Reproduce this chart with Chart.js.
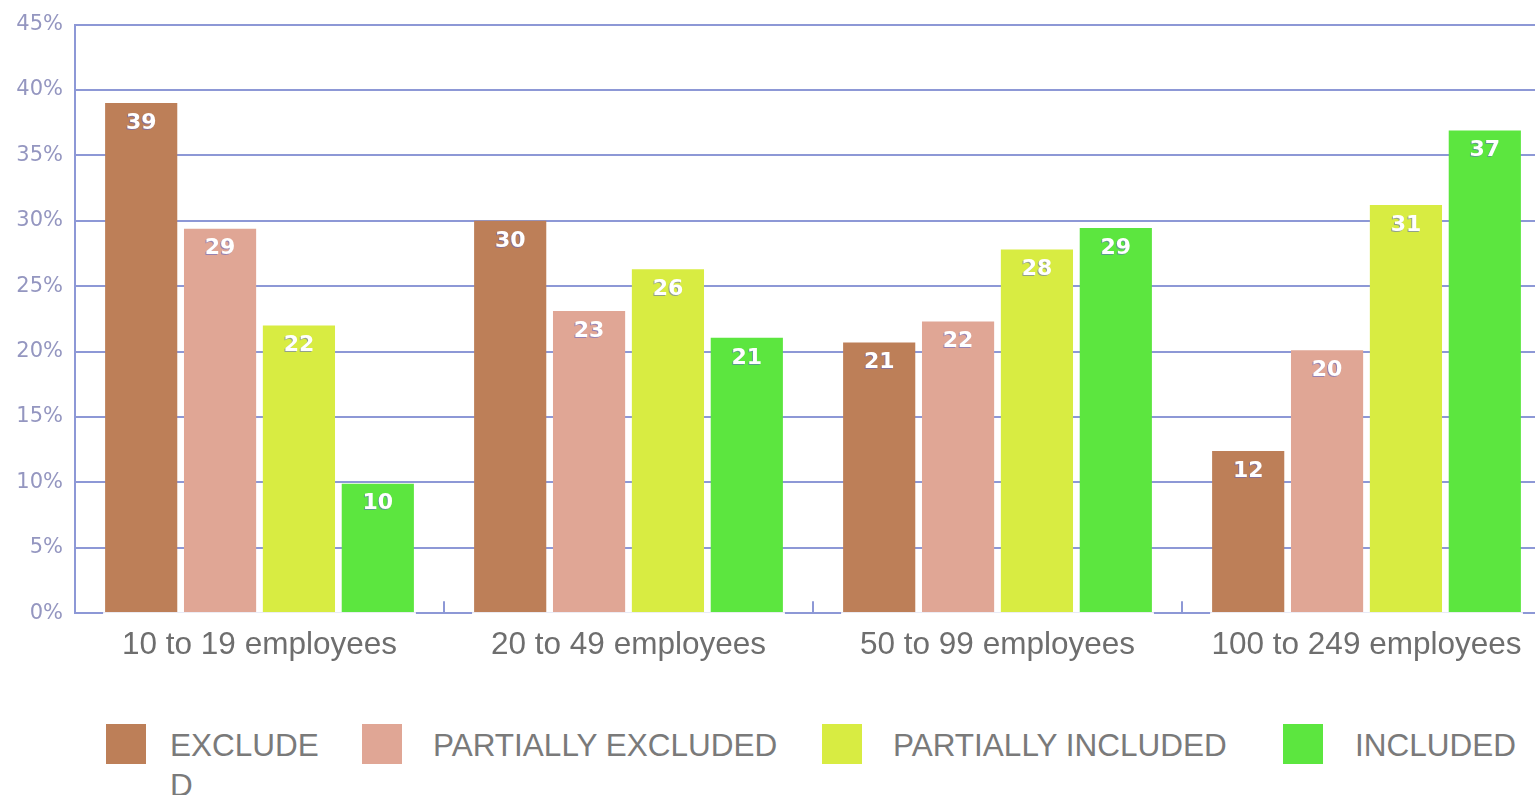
<!DOCTYPE html>
<html>
<head>
<meta charset="utf-8">
<script src="https://cdn.jsdelivr.net/npm/chart.js@4/dist/chart.umd.min.js"></script>
<style>
  html, body { margin: 0; padding: 0; background: #fff; overflow: hidden; width: 1535px; height: 795px; }
  #wrap { position: absolute; left: 0; top: 0; width: 1551px; height: 677px; }
  #legend { position: absolute; left: 0; top: 724px; width: 1535px; height: 71px; font-family: "Liberation Sans", Arial, sans-serif; font-size: 31.5px; color: #7a7a7a; }
  .item { position: absolute; top: 0; }
  .box { position: absolute; left: 0; top: 0; width: 40px; height: 40px; }
  .lbl { position: absolute; top: 1px; line-height: 40px; }
</style>
</head>
<body>
<div id="wrap"><canvas id="chart"></canvas></div>
<div id="legend"></div>
<script>
(function(){
  'use strict';

  // datos (porcentaje)
  const categories = ['10 to 19 employees', '20 to 49 employees', '50 to 99 employees', '100 to 249 employees'];
  const seriesNames = ['EXCLUDED', 'PARTIALLY EXCLUDED', 'PARTIALLY INCLUDED', 'INCLUDED'];
  const excluded = [39.0, 30.0, 20.7, 12.4];
  const partiallyExcluded = [29.4, 23.1, 22.3, 20.1];
  const partiallyIncluded = [22.0, 26.3, 27.8, 31.2];
  const included = [9.9, 21.05, 29.45, 36.9];
  const yTicks = [0, 5, 10, 15, 20, 25, 30, 35, 40, 45];

  const colors = ['#bd7f58', '#e0a695', '#d8ec42', '#5ce63f'];
  const gridColor = '#8d98d6';
  const allSeries = [excluded, partiallyExcluded, partiallyIncluded, included];

  // etiquetas blancas dentro de las barras
  const barLabels = {
    id: 'barLabels',
    afterDatasetsDraw(chart){
      const ctx = chart.ctx;
      ctx.save();
      ctx.font = 'bold 22px "DejaVu Sans", sans-serif';
      ctx.textAlign = 'center';
      ctx.textBaseline = 'middle';
      chart.data.datasets.forEach((ds, i) => {
        const meta = chart.getDatasetMeta(i);
        meta.data.forEach((bar, j) => {
          const txt = String(Math.round(ds.data[j]));
          ctx.fillStyle = 'rgba(90,100,200,0.55)';
          ctx.fillText(txt, bar.x - 1, bar.y + 21);
          ctx.fillStyle = '#ffffff';
          ctx.fillText(txt, bar.x, bar.y + 20);
        });
      });
      ctx.restore();
    }
  };

  // linea base: solo visible entre grupos, con marcas hacia arriba en los limites
  const baseLine = {
    id: 'baseLine',
    afterDatasetsDraw(chart){
      const ctx = chart.ctx;
      const x = chart.scales.x, y = chart.scales.y;
      const y0 = y.getPixelForValue(0);
      const first = chart.getDatasetMeta(0).data;
      const last = chart.getDatasetMeta(chart.data.datasets.length - 1).data;
      ctx.save();
      ctx.fillStyle = '#ffffff';
      first.forEach((b, j) => {
        const l = b.x - b.width / 2 - 2;
        const r = last[j].x + last[j].width / 2 + 2;
        ctx.fillRect(l, y0 - 1, r - l, 4);
      });
      ctx.strokeStyle = gridColor;
      ctx.lineWidth = 2;
      for(let i = 1; i < categories.length; i++){
        const bx = (x.getPixelForTick(i - 1) + x.getPixelForTick(i)) / 2;
        ctx.beginPath();
        ctx.moveTo(bx, y0);
        ctx.lineTo(bx, y0 - 12);
        ctx.stroke();
      }
      ctx.restore();
    }
  };

  const ctx = document.getElementById('chart');
  new Chart(ctx, {
    type: 'bar',
    data: {
      labels: categories,
      datasets: allSeries.map((d, i) => ({
        label: seriesNames[i],
        data: d,
        backgroundColor: colors[i],
        borderWidth: 0,
        barPercentage: 0.915,
        categoryPercentage: 0.855
      }))
    },
    options: {
      responsive: true,
      maintainAspectRatio: false,
      animation: false,
      layout: { padding: { top: 10, right: 0, left: 0, bottom: 0 } },
      plugins: { legend: { display: false }, tooltip: { enabled: false } },
      scales: {
        x: {
          grid: { display: false, drawTicks: false },
          border: { display: false },
          ticks: { color: '#6e6e6e', font: { family: '"Liberation Sans", Arial, sans-serif', size: 31.5 }, padding: 13, maxRotation: 0 }
        },
        y: {
          min: 0, max: 45,
          afterFit(s){ s.width = 75; },
          afterBuildTicks(s){ s.ticks = yTicks.map(v => ({ value: v })); },
          grid: { color: gridColor, lineWidth: 2, drawTicks: false },
          border: { display: true, color: gridColor, width: 2 },
          ticks: {
            color: '#9496c0',
            padding: 12,
            font: { family: '"DejaVu Sans", sans-serif', size: 21 },
            callback: v => v + '%'
          }
        }
      }
    },
    plugins: [baseLine, barLabels]
  });

  // leyenda en HTML (el texto se parte como en el original)
  const legendPos = [[106, 170, 150], [362, 433, 400], [822, 893, 400], [1283, 1355, 200]];
  const legend = document.getElementById('legend');
  seriesNames.forEach((name, i) => {
    const it = document.createElement('div');
    it.className = 'item';
    it.style.left = legendPos[i][0] + 'px';
    const box = document.createElement('div');
    box.className = 'box';
    box.style.background = colors[i];
    const lbl = document.createElement('div');
    lbl.className = 'lbl';
    lbl.style.left = (legendPos[i][1] - legendPos[i][0]) + 'px';
    lbl.style.width = legendPos[i][2] + 'px';
    lbl.style.wordBreak = 'break-all';
    lbl.textContent = name;
    it.appendChild(box);
    it.appendChild(lbl);
    legend.appendChild(it);
  });
})();
</script>
</body>
</html>
